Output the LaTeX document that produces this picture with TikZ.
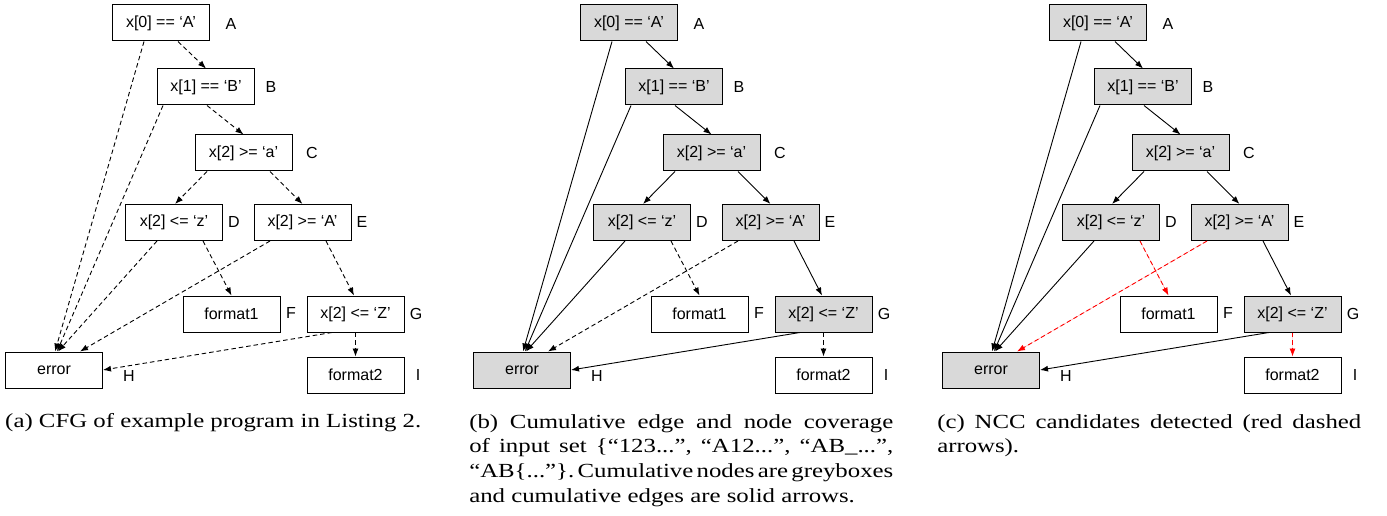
\documentclass[tikz,border=0pt]{standalone}
\usepackage{fontspec}
\setmainfont{Liberation Sans}
\newfontfamily\capfont{Liberation Serif}[WordSpace={1,1,1.6}]
\usetikzlibrary{arrows.meta}
\definecolor{boxgrey}{HTML}{D9D9D9}
\newcommand\capline[1]{\hbox to 342pt{#1}}
\newcommand\caplast[1]{\hbox{#1}}
\tikzset{
  box/.style={draw, line width=1pt, minimum width=97pt, minimum height=36pt,
    inner sep=0pt, font=\fontsize{16}{19}\selectfont, fill=white},
  gbox/.style={box, fill=boxgrey},
  lbl/.style={font=\fontsize{16}{19}\selectfont, inner sep=0pt},
  edge/.style={line width=0.9pt, -{Latex[length=8pt,width=6pt]}},
  sedge/.style={edge},
  dedge/.style={edge, dash pattern=on 4.5pt off 3pt},
  redge/.style={dedge, draw=red, fill=red},
  capt/.style={anchor=base west, inner sep=0pt,
    xscale=1.24, transform shape,
    font={\capfont\fontsize{20}{24.7}\selectfont\frenchspacing}},
}
\newcommand\cfgpanel[5]{%
\begin{scope}[xshift=#2]
  \node[#3] (#1A) at (161,23) {x[0] == ‘A’};
  \node[#3] (#1B) at (206,87) {x[1] == ‘B’};
  \node[#3] (#1C) at (243.5,153) {x[2] >= ‘a’};
  \node[#3] (#1D) at (174,222.5) {x[2] <= ‘z’};
  \node[#3] (#1E) at (302.5,222.5) {x[2] >= ‘A’};
  \node[box] (#1F) at (231.5,314) {format1};
  \node[#3] (#1G) at (355.5,314) {x[2] <= ‘Z’};
  \node[#3] (#1H) at (54,370) {error};
  \node[box] (#1I) at (355.5,375) {format2};
  \node[lbl] (#1lA) at (231,24) {A};
  \node[lbl] (#1lB) at (271,87) {B};
  \node[lbl] (#1lC) at (312,153) {C};
  \node[lbl] (#1lD) at (234,222) {D};
  \node[lbl] (#1lE) at (362,222) {E};
  \node[lbl] (#1lF) at (291,313) {F};
  \node[lbl] (#1lG) at (416,314) {G};
  \node[lbl] (#1lH) at (129,376) {H};
  \node[lbl] (#1lI) at (418,375) {I};
  \draw[#4] ([xshift=17pt]#1A.south) -- (#1B.north);
  \draw[#4] ([xshift=-17pt]#1A.south) -- ([xshift=1pt]#1H.north);
  \draw[#4] ([xshift=1pt]#1B.south) -- (#1C.north);
  \draw[#4] ([xshift=-43pt]#1B.south) -- ([xshift=3pt]#1H.north);
  \draw[#4] ([xshift=-36.5pt]#1C.south) -- ([xshift=1pt]#1D.north);
  \draw[#4] ([xshift=26.5pt]#1C.south) -- (#1E.north);
  \draw[#4] ([xshift=-17pt]#1D.south) -- ([xshift=4pt]#1H.north);
  \draw[#5] ([xshift=29pt]#1D.south) -- (#1F.north);
  \draw[#5] ([xshift=-32.5pt]#1E.south) -- ([xshift=26pt]#1H.north);
  \draw[#4] ([xshift=23.5pt]#1E.south) -- ([xshift=-1.5pt]#1G.north);
  \draw[#4] ([xshift=-23.5pt]#1G.south) -- (#1H.east);
  \draw[#5] (#1G.south) -- (#1I.north);
\end{scope}}
\begin{document}
\begin{tikzpicture}[x=1pt, y=-1pt]
  \useasboundingbox (0,0) rectangle (1387,516);
  \cfgpanel{a}{0}{box}{dedge}{dedge}
  \cfgpanel{b}{468}{gbox}{sedge}{dedge}
  \cfgpanel{c}{937}{gbox}{sedge}{redge}
  \node[capt] (capa) at (5,427) {(a) CFG of example program in Listing 2.};
  \node[capt] (capb) at (469,428) {\vtop{%
    \capline{(b) Cumulative edge and node coverage}%
    \capline{of input set \{“123...”, “A12...”, “AB\_...”,}%
    \capline{“AB\{...”\}. Cumulative nodes are greyboxes}%
    \caplast{and cumulative edges are solid arrows.}}};
  \node[capt] (capc) at (937,428) {\vtop{%
    \capline{(c) NCC candidates detected (red dashed}%
    \caplast{arrows).}}};
\end{tikzpicture}
\end{document}
